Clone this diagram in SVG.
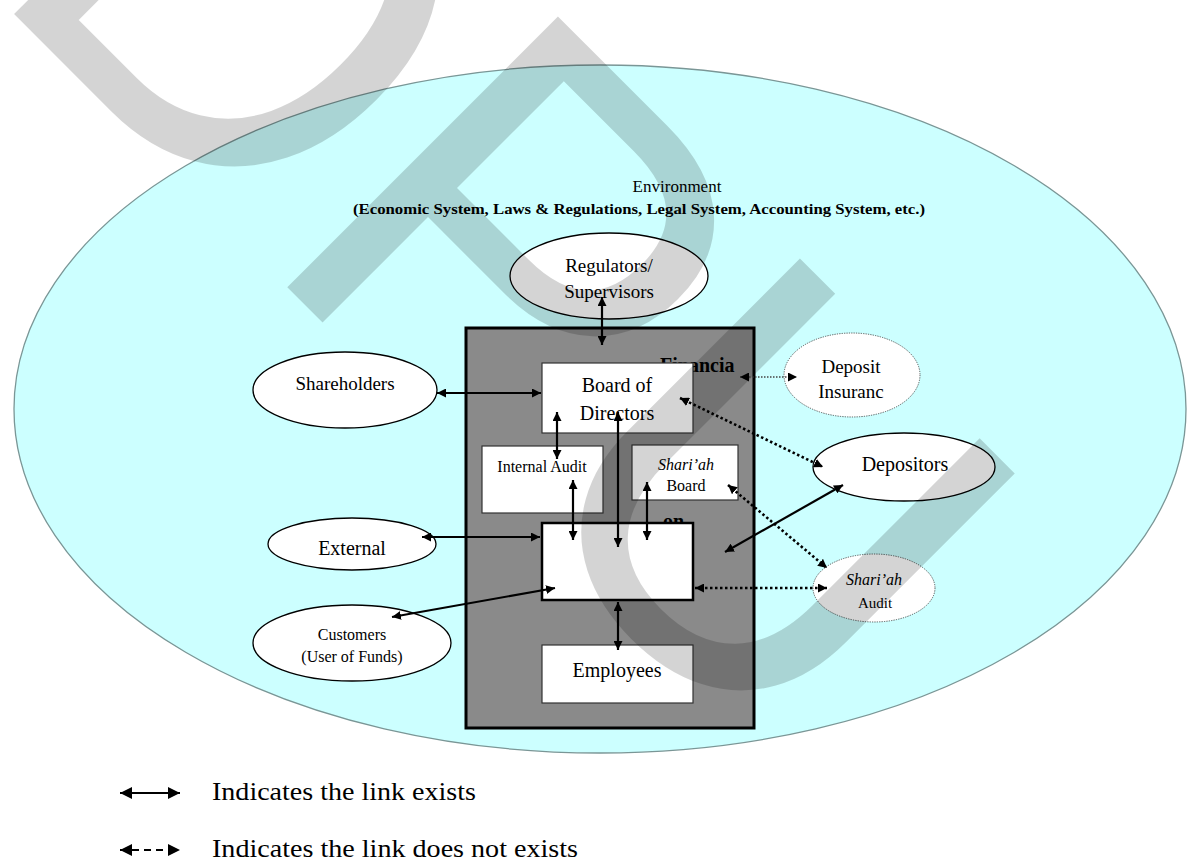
<svg xmlns="http://www.w3.org/2000/svg" width="1187" height="861" viewBox="0 0 1187 861">
  <defs>
    <marker id="ah" viewBox="0 0 10 10" refX="10" refY="5" markerWidth="9" markerHeight="9" markerUnits="userSpaceOnUse" orient="auto-start-reverse">
      <path d="M0,0 L10,5 L0,10 z" fill="#000"/>
    </marker>
    <marker id="ahBig" viewBox="0 0 10 10" refX="10" refY="5" markerWidth="12" markerHeight="12" markerUnits="userSpaceOnUse" orient="auto-start-reverse">
      <path d="M0,0 L10,5 L0,10 z" fill="#000"/>
    </marker>
    <style>
      .serif { font-family: "Liberation Serif", "Times New Roman", serif; fill: #000; }
      .box { fill: #fff; stroke: #333; stroke-width: 1.2; }
      .oval { fill: #fff; stroke: #000; stroke-width: 1.3; }
      .oval-dot { fill: #fff; stroke: #555; stroke-width: 1; stroke-dasharray: 1.2 1.2; }
      .link { stroke: #000; stroke-width: 2.2; fill: none; marker-start: url(#ah); marker-end: url(#ah); }
      .nolink { stroke: #000; stroke-width: 2.6; fill: none; stroke-dasharray: 2.5 2.5; marker-start: url(#ah); marker-end: url(#ah); }
      .nolink-thin { stroke: #444; stroke-width: 1.5; fill: none; stroke-dasharray: 1.5 1.5; marker-start: url(#ah); marker-end: url(#ah); }
    </style>
  </defs>

  <rect width="1187" height="861" fill="#fff"/>

  <!-- environment -->
  <g id="environment">
    <ellipse cx="600" cy="409" rx="586" ry="344" fill="#ccffff" stroke="#7a9696" stroke-width="1.3"/>
    <text class="serif" x="677" y="192" font-size="17" text-anchor="middle">Environment</text>
    <text class="serif" x="353" y="214" font-size="15" font-weight="bold" textLength="572" lengthAdjust="spacingAndGlyphs">(Economic System, Laws &amp; Regulations, Legal System, Accounting System, etc.)</text>
  </g>

  <!-- financial institution -->
  <g id="institution">
    <rect x="466" y="328" width="288" height="400" fill="#8a8a8a" stroke="#000" stroke-width="3"/>
    <text class="serif" x="660" y="372" font-size="20" font-weight="bold">Financia</text>
    <text class="serif" x="663" y="528" font-size="20" font-weight="bold">on</text>
  </g>

  <g id="board">
    <rect class="box" x="542" y="363" width="151" height="70"/>
    <text class="serif" x="617" y="392" font-size="20" text-anchor="middle">Board of</text>
    <text class="serif" x="617" y="420" font-size="20" text-anchor="middle">Directors</text>
  </g>

  <g id="internal-audit">
    <rect class="box" x="482" y="446" width="121" height="67"/>
    <text class="serif" x="542" y="472" font-size="16" text-anchor="middle">Internal Audit</text>
  </g>

  <g id="shariah-board">
    <rect class="box" x="632" y="445" width="106" height="55"/>
    <text class="serif" x="686" y="470" font-size="16" font-style="italic" text-anchor="middle">Shari’ah</text>
    <text class="serif" x="686" y="491" font-size="16" text-anchor="middle">Board</text>
  </g>

  <g id="management">
    <rect x="542" y="523" width="151" height="77" fill="#fff" stroke="#000" stroke-width="2.5"/>
  </g>

  <g id="employees">
    <rect class="box" x="542" y="645" width="151" height="58"/>
    <text class="serif" x="617" y="677" font-size="20" text-anchor="middle">Employees</text>
  </g>

  <!-- outside stakeholders -->
  <g id="regulators">
    <ellipse class="oval" cx="609" cy="276" rx="99" ry="43"/>
    <text class="serif" x="609" y="272" font-size="19" text-anchor="middle">Regulators/</text>
    <text class="serif" x="609" y="298" font-size="19" text-anchor="middle">Supervisors</text>
  </g>

  <g id="shareholders">
    <ellipse class="oval" cx="345" cy="390" rx="92" ry="38"/>
    <text class="serif" x="345" y="390" font-size="19" text-anchor="middle">Shareholders</text>
  </g>

  <g id="external">
    <ellipse class="oval" cx="352" cy="544" rx="84" ry="26"/>
    <text class="serif" x="352" y="555" font-size="20" text-anchor="middle">External</text>
  </g>

  <g id="customers">
    <ellipse class="oval" cx="352" cy="643" rx="99" ry="38"/>
    <text class="serif" x="352" y="640" font-size="16" text-anchor="middle">Customers</text>
    <text class="serif" x="352" y="662" font-size="16" text-anchor="middle">(User of Funds)</text>
  </g>

  <g id="deposit-insurance">
    <ellipse class="oval-dot" cx="852" cy="375" rx="68" ry="42"/>
    <text class="serif" x="851" y="373" font-size="19" text-anchor="middle">Deposit</text>
    <text class="serif" x="851" y="398" font-size="19" text-anchor="middle">Insuranc</text>
  </g>

  <g id="depositors">
    <ellipse class="oval" cx="904" cy="467" rx="91" ry="34"/>
    <text class="serif" x="905" y="471" font-size="20" text-anchor="middle">Depositors</text>
  </g>

  <g id="shariah-audit">
    <ellipse class="oval-dot" cx="874" cy="588" rx="61" ry="34"/>
    <text class="serif" x="874" y="585" font-size="16" font-style="italic" text-anchor="middle">Shari’ah</text>
    <text class="serif" x="875" y="608" font-size="15" text-anchor="middle">Audit</text>
  </g>

  <!-- links -->
  <g id="connectors">
    <line class="link" x1="602" y1="297" x2="602" y2="345"/>
    <line class="link" x1="437" y1="393" x2="541" y2="393"/>
    <line class="link" x1="557" y1="412" x2="557" y2="459"/>
    <line class="link" x1="573" y1="480" x2="573" y2="540"/>
    <line class="link" x1="618" y1="412" x2="618" y2="547"/>
    <line class="link" x1="647" y1="482" x2="647" y2="540"/>
    <line class="link" x1="618" y1="602" x2="618" y2="650"/>
    <line class="link" x1="422" y1="537" x2="540" y2="537"/>
    <line class="link" x1="392" y1="617" x2="555" y2="588"/>
    <line class="link" x1="843" y1="485" x2="725" y2="552"/>
    <line class="nolink" x1="680" y1="398" x2="823" y2="467"/>
    <line class="nolink" x1="728" y1="485" x2="827" y2="568"/>
    <line class="nolink" x1="695" y1="588" x2="827" y2="588"/>
    <line class="nolink-thin" x1="740" y1="377" x2="797" y2="377"/>
  </g>

  <!-- key -->
  <g id="legend">
    <line x1="120" y1="793" x2="180" y2="793" stroke="#000" stroke-width="2" marker-start="url(#ahBig)" marker-end="url(#ahBig)"/>
    <text class="serif" x="212" y="800" font-size="25" textLength="264" lengthAdjust="spacingAndGlyphs">Indicates the link exists</text>
    <line x1="120" y1="850" x2="180" y2="850" stroke="#000" stroke-width="2" stroke-dasharray="7 5" marker-start="url(#ahBig)" marker-end="url(#ahBig)"/>
    <text class="serif" x="212" y="857" font-size="25" textLength="366" lengthAdjust="spacingAndGlyphs">Indicates the link does not exists</text>
  </g>

  <!-- translucent watermark lettering -->
  <g id="watermark">
    <text transform="rotate(45) scale(1 1.04)" x="-24" y="0" font-family="Liberation Sans, Arial, sans-serif" font-size="535" fill="#000" fill-opacity="0.17">DP<tspan dx="-12">U</tspan></text>
  </g>
</svg>
